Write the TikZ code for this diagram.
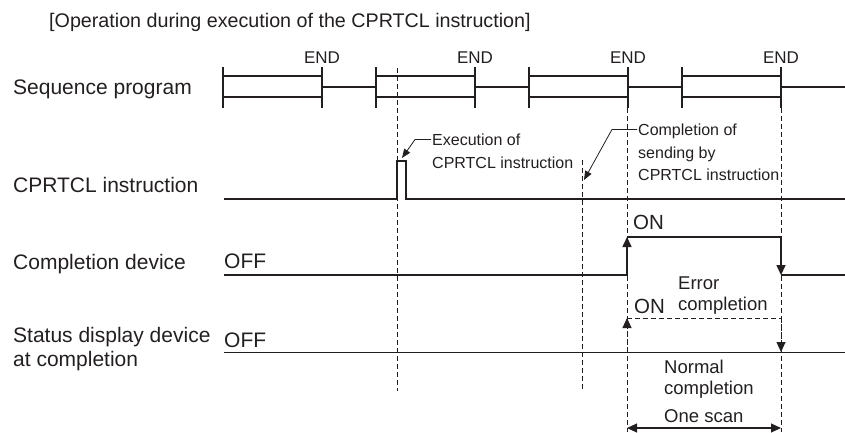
\documentclass[tikz,border=0pt]{standalone}
\usepackage{fontspec}
\setmainfont{Liberation Sans}
\usetikzlibrary{arrows.meta, positioning}
\definecolor{ink}{HTML}{231F20}

\begin{document}
\begin{tikzpicture}[
  x=1pt, y=-1pt, color=ink,
  wave/.style={line width=1.6pt},
  guide/.style={dash pattern=on 5pt off 3pt, line width=0.9pt},
  leader/.style={-{Triangle[length=9pt,width=7pt]}, line width=0.8pt},
  edge/.style={-{Triangle[length=10pt,width=9pt]}},
  lbl/.style={anchor=base west, inner sep=0pt, align=left, font=\fontsize{21}{24}\selectfont},
  note/.style={anchor=base west, inner sep=0pt, align=left, font=\fontsize{16}{22.5}\selectfont},
  state/.style={anchor=base west, inner sep=0pt, align=left, font=\fontsize{18.5}{21}\selectfont}
]
\useasboundingbox (0,0) rectangle (845,432);

% row labels
\node[anchor=base west, inner sep=0pt, font=\fontsize{19.7}{22}\selectfont] (title) at (49,27) {[Operation during execution of the CPRTCL instruction]};
\node[lbl] (seq) at (13,94) {Sequence program};
\node[lbl] (instr) at (13,192.5) {CPRTCL instruction};
\node[lbl] (done) at (13,269.5) {Completion device};
\node[lbl] (status) at (13,366) {Status display device\\at completion};

% sequence program scans
\foreach \a/\b [count=\i] in {223/322, 376/475, 529/628, 682/781} {
  \draw[wave] (\a,67) -- (\a,108) (\b,67) -- (\b,108) (\a,76) -- (\b,76) (\a,97) -- (\b,97);
  \node[inner sep=0pt, anchor=base, font=\fontsize{17}{20}\selectfont] (end\i) at (\b,63) {END};
}
\draw[wave] (322,87) -- (376,87) (475,87) -- (529,87) (628,87) -- (682,87) (781,87) -- (845,87);

% guide lines
\draw[guide] (397,68) -- (397,391);
\draw[guide] (582,160) -- (582,391);
\draw[guide] (627,108) -- (627,432);
\draw[guide] (781,108) -- (781,432);

% CPRTCL instruction
\draw[wave] (224,199) -- (397,199) -- (397,161) -- (406,161) -- (406,199) -- (845,199);

% completion device
\node[state, font=\fontsize{21}{20}\selectfont] (off1) at (224,268.5) {OFF};
\node[state, font=\fontsize{20.5}{20}\selectfont] (on1) at (633,229) {ON};
\draw[wave, edge] (224,275) -- (627,275) -- (627,237);
\draw[wave, edge] (627,237) -- (781,237) -- (781,275);
\draw[wave] (781,275) -- (845,275);

% status display device
\node[state, font=\fontsize{21}{20}\selectfont] (off2) at (224,347) {OFF};
\node[state, font=\fontsize{20.5}{20}\selectfont] (on2) at (634,313) {ON};
\draw[wave] (224,352.5) -- (845,352.5);
\draw[guide, edge] (627,352) -- (627,318);
\draw[guide] (627,318) -- (781,318);
\draw[guide, edge] (781,318) -- (781,352);
\node[state] (err) at (678,310) {Error\\completion};
\node[state] (ok) at (664,394.3) {Normal\\completion};

% leaders
\node[note] (exec) at (432,168.3) {Execution of\\CPRTCL instruction};
\node[note] (sent) at (638,180.7) {Completion of\\sending by\\CPRTCL instruction};
\coordinate (exectip) at (402,158);
\coordinate (senttip) at (584,180);
\draw[leader] ([xshift=-1pt,yshift=-5.5pt]exec.north west) -- ++(-16,0) -- (exectip);
\draw[leader] ([xshift=-1pt,yshift=-5.5pt]sent.north west) -- ++(-25,0) -- (senttip);

% one scan
\node[state] (scan) at (664,422.7) {One scan};
\coordinate (scanL) at (627,428);
\coordinate (scanR) at (781,428);
\draw[{Triangle[length=10pt,width=9pt]}-{Triangle[length=10pt,width=9pt]}, line width=1.1pt] (scanL) -- (scanR);

\end{tikzpicture}
\end{document}
